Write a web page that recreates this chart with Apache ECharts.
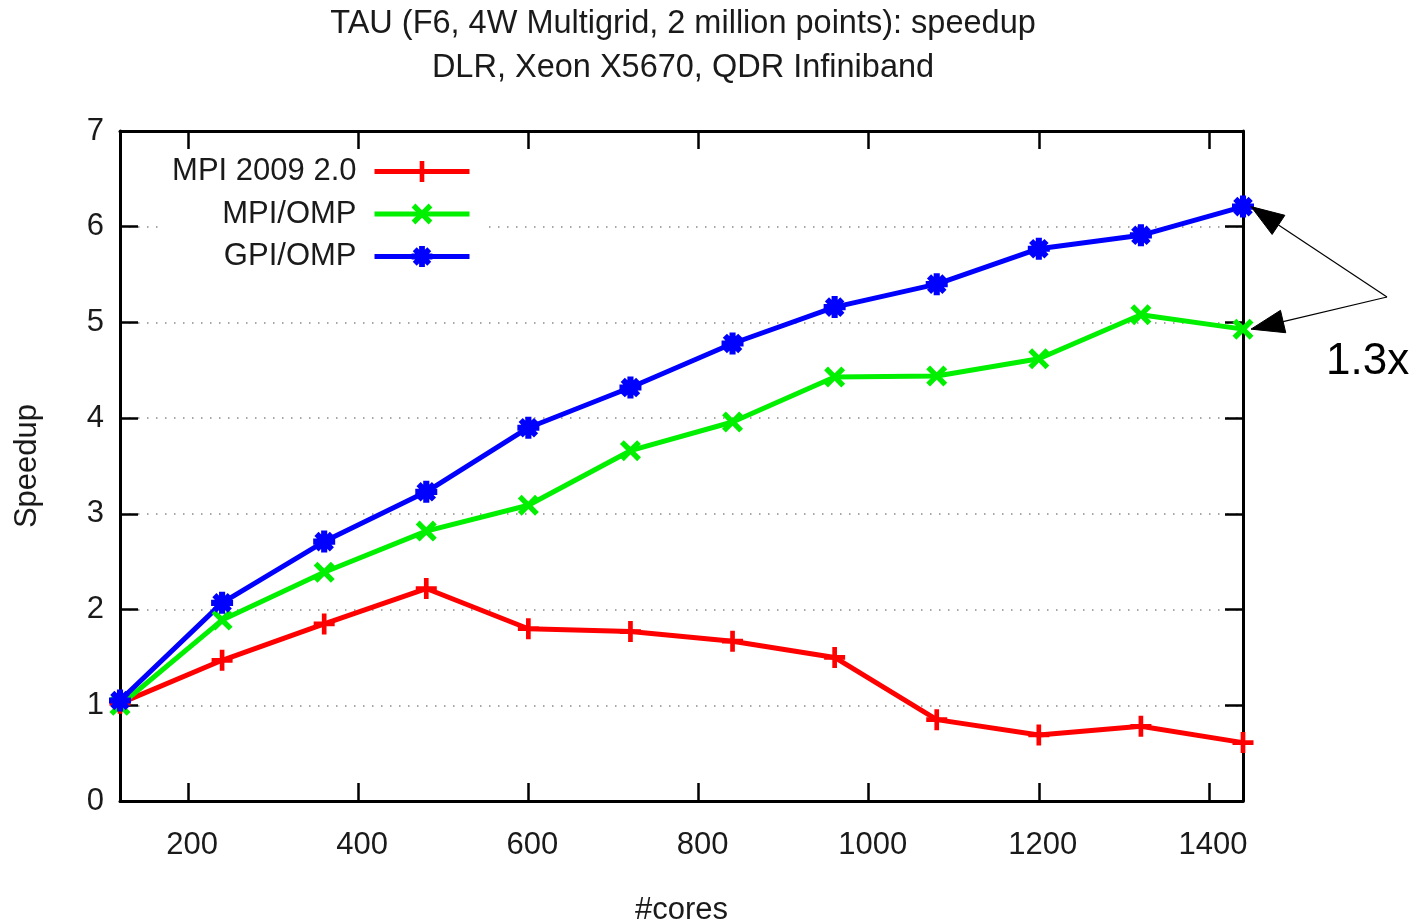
<!DOCTYPE html>
<html>
<head>
<meta charset="utf-8">
<script src="https://cdn.jsdelivr.net/npm/echarts@6/dist/echarts.min.js"></script>
<style>
html,body{margin:0;padding:0;background:#fff;}
#chart{width:1424px;height:923px;}
</style>
</head>
<body>
<div id="chart"></div>
<script>
// ---- data ----
const titleLines = ['TAU (F6, 4W Multigrid, 2 million points): speedup', 'DLR, Xeon X5670, QDR Infiniband'];
const xAxisName = '#cores';
const yAxisName = 'Speedup';
const cores = [120, 240, 360, 480, 600, 720, 840, 960, 1080, 1200, 1320, 1440];
const seriesNames = ['MPI 2009 2.0', 'MPI/OMP', 'GPI/OMP'];
const mpi2009 = [1.02, 1.47, 1.85, 2.22, 1.80, 1.77, 1.67, 1.50, 0.85, 0.69, 0.78, 0.61];
const mpiOmp  = [1.00, 1.89, 2.39, 2.82, 3.09, 3.66, 3.96, 4.43, 4.44, 4.62, 5.08, 4.93];
const gpiOmp  = [1.05, 2.07, 2.71, 3.23, 3.90, 4.32, 4.78, 5.16, 5.40, 5.77, 5.91, 6.21];
const xTicks = [200, 400, 600, 800, 1000, 1200, 1400];
const xRange = [120, 1440];
const yRange = [0, 7];
const annotationText = '1.3x';

// ---- styling ----
const FONT = 'Liberation Sans';
const TXT = '#1a1a1a';
const plusPath = 'path://M-2,-9L2,-9L2,-2L9,-2L9,2L2,2L2,9L-2,9L-2,2L-9,2L-9,-2L-2,-2Z';
const xPath = 'path://M4.95,-7.78L7.78,-4.95L2.83,0L7.78,4.95L4.95,7.78L0,2.83L-4.95,7.78L-7.78,4.95L-2.83,0L-7.78,-4.95L-4.95,-7.78L0,-2.83Z';
const starPath = 'path://M-2.5,-9L2.5,-9L2.5,-2.5L9,-2.5L9,2.5L2.5,2.5L2.5,9L-2.5,9L-2.5,2.5L-9,2.5L-9,-2.5L-2.5,-2.5Z M4.6,-8L8,-4.6L3.4,0L8,4.6L4.6,8L0,3.4L-4.6,8L-8,4.6L-3.4,0L-8,-4.6L-4.6,-8L0,-3.4Z';

const chart = echarts.init(document.getElementById('chart'), null, {renderer: 'canvas'});

function mkSeries(name, vals, color, symbol, size) {
  return {
    name: name,
    type: 'line',
    data: cores.map((c, i) => [c, vals[i]]),
    symbol: symbol,
    symbolSize: size,
    symbolKeepAspect: true,
    showAllSymbol: true,
    lineStyle: {color: color, width: 5},
    itemStyle: {color: color, borderWidth: 0},
    emphasis: {disabled: true},
    clip: false,
    animation: false
  };
}

const axisLineStyle = {color: '#000', width: 3};
const tickStyle = {color: '#000', width: 2.5};
const plainNum = v => String(v);

const option = {
  backgroundColor: '#fff',
  animation: false,
  title: {
    text: titleLines.join('\n'),
    left: 683,
    top: 2,
    textAlign: 'center',
    padding: 0,
    textStyle: {fontFamily: FONT, fontSize: 32.5, fontWeight: 'normal', color: TXT, lineHeight: 44}
  },
  grid: {left: 120, right: 181, top: 131, bottom: 122, containLabel: false, outerBoundsMode: 'none'},
  legend: {
    orient: 'vertical',
    align: 'right',
    right: 937,
    top: 152,
    padding: [4, 15, 4, 10],
    backgroundColor: '#fff',
    itemWidth: 95,
    itemHeight: 26,
    itemGap: 11.5,
    data: seriesNames,
    lineStyle: {width: 5},
    textStyle: {fontFamily: FONT, fontSize: 31, color: TXT, lineHeight: 31, padding: [0, 13, 0, 0]},
    z: 10
  },
  xAxis: [
    {
      type: 'value',
      min: xRange[0], max: xRange[1],
      name: xAxisName,
      nameLocation: 'middle',
      nameGap: 94,
      nameTextStyle: {fontFamily: FONT, fontSize: 31, color: TXT},
      axisLine: {show: true, onZero: false, lineStyle: axisLineStyle},
      axisTick: {show: true, inside: true, length: 18, lineStyle: tickStyle, customValues: xTicks},
      axisLabel: {show: true, margin: 29, padding: [0, 0, 0, 8], fontFamily: FONT, fontSize: 31, color: TXT, customValues: xTicks, formatter: plainNum},
      splitLine: {show: false}
    },
    {
      type: 'value',
      position: 'top',
      min: xRange[0], max: xRange[1],
      axisLine: {show: true, onZero: false, lineStyle: axisLineStyle},
      axisTick: {show: true, inside: true, length: 18, lineStyle: tickStyle, customValues: xTicks},
      axisLabel: {show: false},
      splitLine: {show: false}
    }
  ],
  yAxis: [
    {
      type: 'value',
      min: yRange[0], max: yRange[1], interval: 1,
      name: yAxisName,
      nameLocation: 'middle',
      nameGap: 77,
      nameRotate: 90,
      nameTextStyle: {fontFamily: FONT, fontSize: 31, color: TXT},
      axisLine: {show: true, onZero: false, lineStyle: axisLineStyle},
      axisTick: {show: true, inside: true, length: 18, lineStyle: tickStyle},
      axisLabel: {show: true, margin: 16, fontFamily: FONT, fontSize: 31, color: TXT, formatter: plainNum},
      splitLine: {show: true, lineStyle: {color: '#8a8a8a', width: 1.5, type: [1.5, 7.5]}}
    },
    {
      type: 'value',
      position: 'right',
      min: yRange[0], max: yRange[1], interval: 1,
      axisLine: {show: true, onZero: false, lineStyle: axisLineStyle},
      axisTick: {show: true, inside: true, length: 18, lineStyle: tickStyle},
      axisLabel: {show: false},
      splitLine: {show: false}
    }
  ],
  series: [
    mkSeries(seriesNames[0], mpi2009, '#ff0000', plusPath, 21),
    mkSeries(seriesNames[1], mpiOmp, '#00f000', xPath, 21),
    mkSeries(seriesNames[2], gpiOmp, '#0000ff', starPath, 22)
  ]
};

chart.setOption(option);

// ---- annotation arrows pointing to the last points of GPI/OMP and MPI/OMP ----
const start = [1387, 297];
const last = cores.length - 1;
const targets = [
  chart.convertToPixel({xAxisIndex: 0, yAxisIndex: 0}, [cores[last], gpiOmp[last]]),
  chart.convertToPixel({xAxisIndex: 0, yAxisIndex: 0}, [cores[last], mpiOmp[last]])
];
const graphics = [];
targets.forEach(p => {
  const tip = [p[0] + 8, p[1]];
  const dx = start[0] - tip[0], dy = start[1] - tip[1];
  const len = Math.sqrt(dx * dx + dy * dy);
  const ux = dx / len, uy = dy / len;
  const nx = -uy, ny = ux;
  const headLen = 33, headHalf = 11.5;
  const bx = tip[0] + ux * headLen, by = tip[1] + uy * headLen;
  graphics.push({
    type: 'line', silent: true, z: 100,
    shape: {x1: start[0], y1: start[1], x2: bx, y2: by},
    style: {stroke: '#000', lineWidth: 1.2}
  });
  graphics.push({
    type: 'polygon', silent: true, z: 100,
    shape: {points: [tip, [bx + nx * headHalf, by + ny * headHalf], [bx - nx * headHalf, by - ny * headHalf]]},
    style: {fill: '#000', stroke: '#000', lineWidth: 1}
  });
});
graphics.push({
  type: 'text', silent: true, z: 100,
  x: 1326, y: 362,
  style: {text: annotationText, fontFamily: FONT, fontSize: 44, fill: '#000', textAlign: 'left', textVerticalAlign: 'middle'}
});
chart.setOption({graphic: graphics});
</script>
</body>
</html>
